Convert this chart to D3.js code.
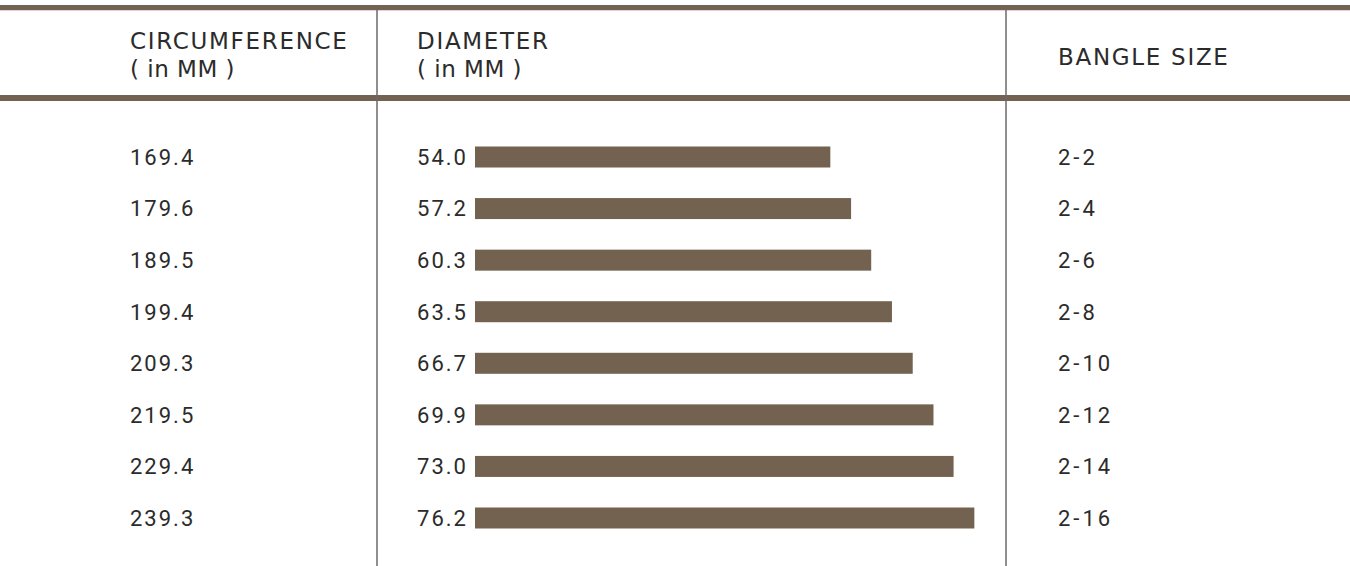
<!DOCTYPE html>
<html>
<head>
<meta charset="utf-8">
<script src="https://cdn.jsdelivr.net/npm/d3@7"></script>
<style>
body { margin: 0; background: #fff; }
svg text { font-family: Roboto, "DejaVu Sans", sans-serif; fill: #2b2b2b; }
svg text.head { font-family: "DejaVu Sans", sans-serif; font-size: 23px; letter-spacing: 1.7px; }
svg text.head.unit { letter-spacing: 0.5px; }
</style>
</head>
<body>
<script>
var circumference = ["169.4", "179.6", "189.5", "199.4", "209.3", "219.5", "229.4", "239.3"];
var diameter = [54.0, 57.2, 60.3, 63.5, 66.7, 69.9, 73.0, 76.2];
var bangleSize = ["2-2", "2-4", "2-6", "2-8", "2-10", "2-12", "2-14", "2-16"];

var w = 1350, h = 566;
var brown = "#736250";
var barStart = 475;

var svg = d3.select("body").append("svg").attr("width", w).attr("height", h);

var y = d3.scalePoint().domain(circumference).range([157, 518]);
var x = d3.scaleLinear().domain([0, 80]).range([480, 999]);

// frame lines
svg.append("rect").attr("x", 0).attr("y", 5).attr("width", w).attr("height", 5).attr("fill", brown);
svg.append("rect").attr("x", 0).attr("y", 10).attr("width", w).attr("height", 1).attr("fill", "#e6cfe6");
svg.append("rect").attr("x", 0).attr("y", 95).attr("width", w).attr("height", 6).attr("fill", brown);
[377, 1006].forEach(function(vx) {
	svg.append("line").attr("x1", vx).attr("x2", vx).attr("y1", 10).attr("y2", h)
		.attr("stroke", "#6a6a6a").attr("stroke-width", 1.5);
});

// headers
var head = svg.append("g");
head.append("text").attr("class", "head").attr("x", 130).attr("y", 49).text("CIRCUMFERENCE");
head.append("text").attr("class", "head unit").attr("x", 130).attr("y", 77).text("( in MM )");
head.append("text").attr("class", "head").attr("x", 417).attr("y", 49).text("DIAMETER");
head.append("text").attr("class", "head unit").attr("x", 417).attr("y", 77).text("( in MM )");
head.append("text").attr("class", "head").attr("x", 1058).attr("y", 65).text("BANGLE SIZE");

var rows = svg.selectAll("g.row").data(circumference).enter().append("g").attr("class", "row");

rows.append("rect")
	.attr("x", barStart)
	.attr("y", function(d) { return y(d) - 10.5; })
	.attr("width", function(d, i) { return x(diameter[i]) - barStart; })
	.attr("height", 21)
	.attr("fill", brown);

rows.append("text")
	.attr("x", 130)
	.attr("y", function(d) { return y(d); })
	.attr("dy", "0.36em")
	.attr("font-size", "22px")
	.attr("letter-spacing", "2px")
	.text(function(d) { return d; });

rows.append("text")
	.attr("x", 468)
	.attr("y", function(d) { return y(d); })
	.attr("dy", "0.36em")
	.attr("font-size", "22px")
	.attr("letter-spacing", "2px")
	.attr("text-anchor", "end")
	.text(function(d, i) { return diameter[i].toFixed(1); });

rows.append("text")
	.attr("x", 1058)
	.attr("y", function(d) { return y(d); })
	.attr("dy", "0.36em")
	.attr("font-size", "22px")
	.attr("letter-spacing", "3px")
	.text(function(d, i) { return bangleSize[i]; });
</script>
</body>
</html>
